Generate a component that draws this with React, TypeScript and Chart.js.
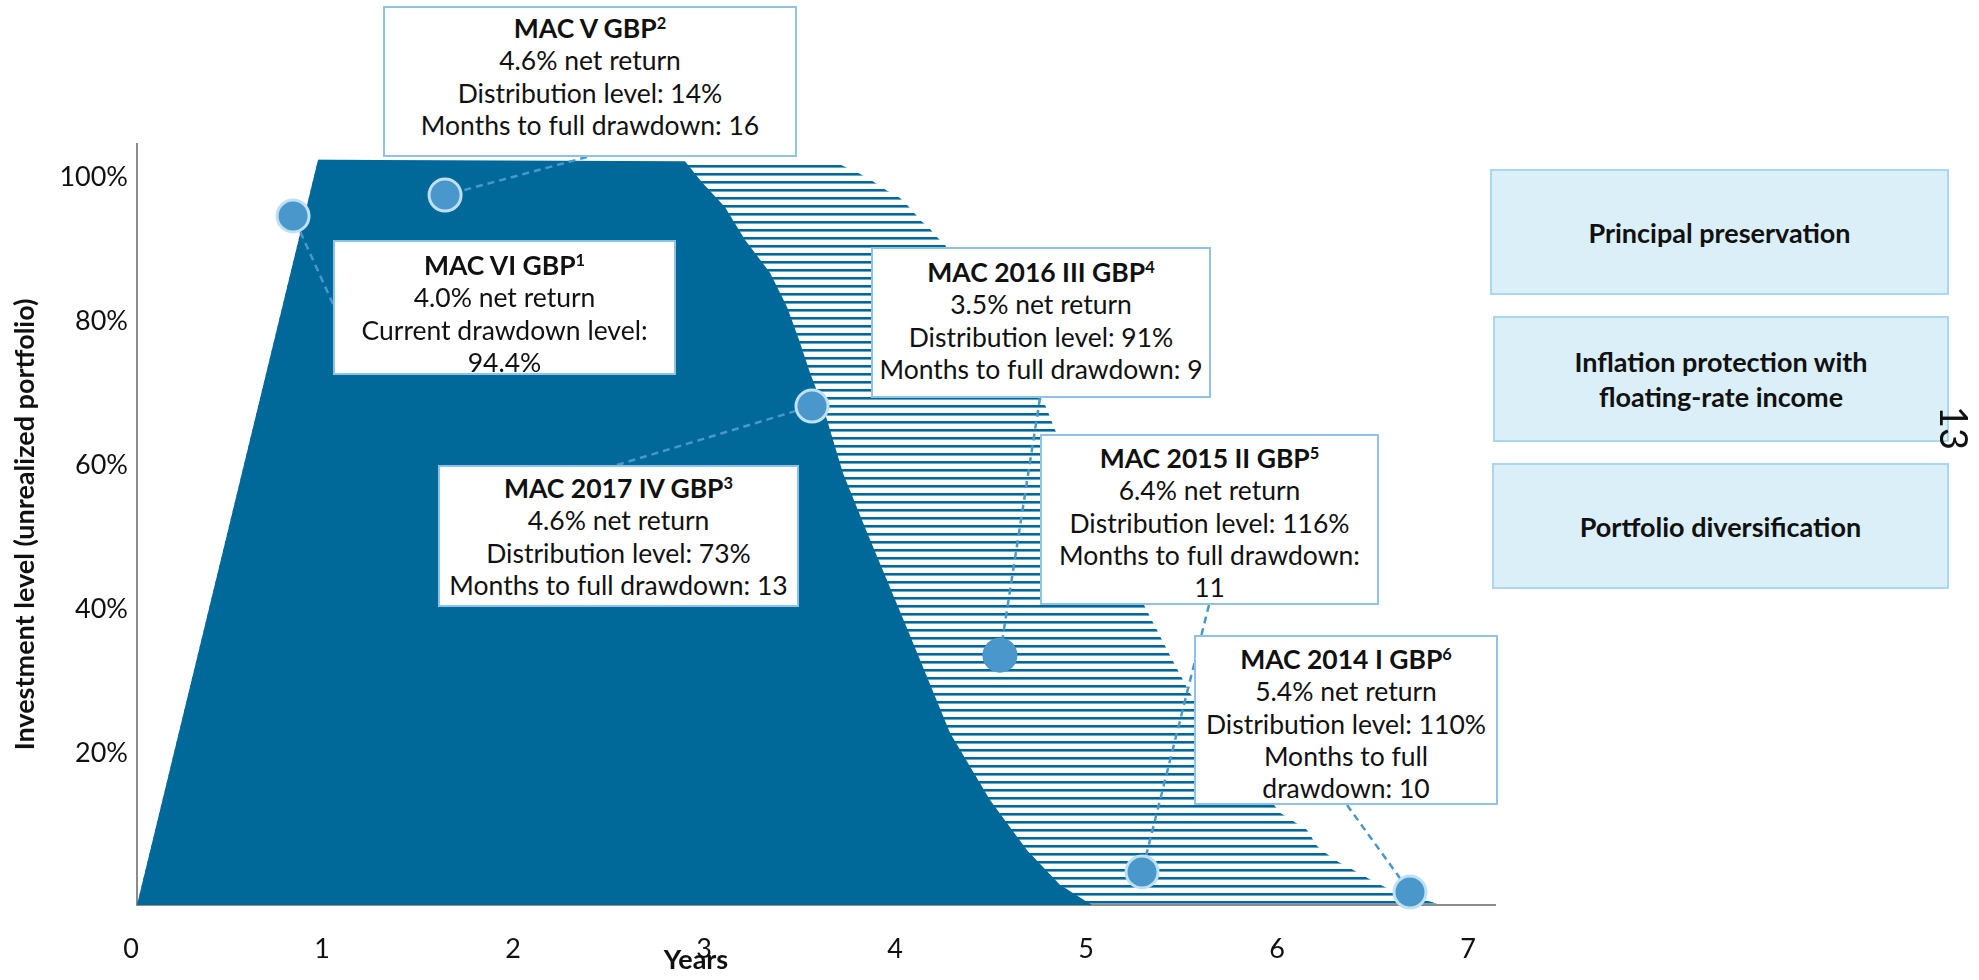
import React, { useEffect, useRef } from 'react';
import { Chart, registerables } from 'chart.js';

Chart.register(...registerables);

// ---------- data ----------
const X_TICKS = [0, 1, 2, 3, 4, 5, 6, 7];
const Y_TICKS = [20, 40, 60, 80, 100];

// solid area: invested (unrealized) portfolio
const DRAWN_X = [0, 0.948, 2.869, 2.958, 3.079, 3.183, 3.314, 3.403, 3.466, 3.524, 3.592, 3.696, 3.817, 4.037, 4.257, 4.466, 4.66, 4.832, 5.0];
const DRAWN_Y = [0, 103.5, 103.3, 100.4, 96.9, 92.4, 87.8, 83.1, 78.5, 73.9, 69.2, 60.0, 52.1, 38.1, 23.9, 14.6, 7.6, 2.8, 0];

// hatched area: outer envelope
const RANGE_X = [0, 0.948, 2.869, 3.686, 3.775, 3.848, 3.921, 3.995, 4.037, 4.073, 4.11, 4.152, 4.188, 4.23, 4.759, 4.806, 5.293, 5.408, 5.513, 5.984, 6.126, 6.178, 6.23, 6.288, 6.366, 6.44, 6.524, 6.613, 6.78, 6.822];
const RANGE_Y = [0, 103.5, 103.3, 102.8, 101.7, 100.6, 99.3, 98.2, 97.1, 96.0, 94.9, 93.9, 92.8, 91.7, 69.2, 66.0, 40.6, 34.7, 29.4, 12.8, 10.4, 8.2, 7.1, 6.0, 4.9, 3.8, 2.6, 1.5, 0.4, 0];

// fund callouts
const FUND_NAMES = ['MAC VI GBP', 'MAC V GBP', 'MAC 2017 IV GBP', 'MAC 2016 III GBP', 'MAC 2015 II GBP', 'MAC 2014 I GBP'];
const FUND_NOTES = ['1', '2', '3', '4', '5', '6'];
const FUND_X = [0.817, 1.613, 3.534, 4.518, 5.262, 6.665];
const FUND_Y = [95.7, 98.6, 69.3, 34.7, 4.6, 1.8];
const FUND_RING = [true, true, true, false, true, true];
const FUND_LINES = [
  ['4.0% net return', 'Current drawdown level:', '94.4%'],
  ['4.6% net return', 'Distribution level: 14%', 'Months to full drawdown: 16'],
  ['4.6% net return', 'Distribution level: 73%', 'Months to full drawdown: 13'],
  ['3.5% net return', 'Distribution level: 91%', 'Months to full drawdown: 9'],
  ['6.4% net return', 'Distribution level: 116%', 'Months to full drawdown:', '11'],
  ['5.4% net return', 'Distribution level: 110%', 'Months to full', 'drawdown: 10'],
];

const BENEFITS = [['Principal preservation'], ['Inflation protection with', 'floating-rate income'], ['Portfolio diversification']];

const Y_TITLE = 'Investment level (unrealized portfolio)';
const X_TITLE = 'Years';
const PAGE_NO = '13';

// ---------- layout / style ----------
const W = 1979;
const H = 980;
const DARK = '#00699a';
const DOT = '#4a97cc';
const RING = '#bfe0f2';
const FONT = 'Lato, "Open Sans", sans-serif';

const BOXES = [
  { left: 333, top: 240, w: 343, h: 135, pt: 7, ax: 333, ay: 304 },
  { left: 383, top: 6, w: 414, h: 151, pt: 4, ax: 587, ay: 157 },
  { left: 438, top: 465, w: 361, h: 142, pt: 5, ax: 617, ay: 465 },
  { left: 871, top: 247, w: 340, h: 151, pt: 7, ax: 1040, ay: 398 },
  { left: 1040, top: 434, w: 339, h: 171, pt: 6, ax: 1209, ay: 605 },
  { left: 1194, top: 635, w: 304, h: 170, pt: 6, ax: 1347, ay: 805 },
];
const SIDE_BOXES = [
  { left: 1490, top: 169, w: 459, h: 126 },
  { left: 1493, top: 316, w: 456, h: 126 },
  { left: 1492, top: 463, w: 457, h: 126 },
];

const leaderPlugin = {
  id: 'leaders',
  beforeDatasetDraw(chart: any, args: any) {
    if (args.index !== 0) return;
    const { ctx } = chart;
    const xs = chart.scales.x;
    const ys = chart.scales.y;
    ctx.save();
    ctx.strokeStyle = DOT;
    ctx.lineWidth = 2.5;
    ctx.setLineDash([7, 5]);
    FUND_X.forEach((fx, i) => {
      const px = xs.getPixelForValue(fx);
      const py = ys.getPixelForValue(FUND_Y[i]);
      ctx.beginPath();
      ctx.moveTo(BOXES[i].ax, BOXES[i].ay);
      ctx.lineTo(px, py);
      ctx.stroke();
    });
    ctx.restore();
  },
};

export default function App() {
  const ref = useRef<HTMLCanvasElement | null>(null);

  useEffect(() => {
    const canvas = ref.current;
    if (!canvas) return;
    const ctx = canvas.getContext('2d')!;
    const tile = document.createElement('canvas');
    tile.width = 8;
    tile.height = 8;
    const tctx = tile.getContext('2d')!;
    tctx.fillStyle = DARK;
    tctx.fillRect(0, 5, 8, 2.6);
    const pattern = ctx.createPattern(tile, 'repeat');

    Chart.defaults.font.family = FONT;

    const chart = new Chart(canvas, {
      type: 'line',
      data: {
        datasets: [
          {
            label: 'Funds',
            data: FUND_X.map((x, i) => ({ x, y: FUND_Y[i] })),
            showLine: false,
            pointRadius: 16,
            pointHoverRadius: 16,
            pointBorderWidth: 3,
            pointBackgroundColor: DOT,
            pointBorderColor: FUND_RING.map((r) => (r ? RING : DOT)),
            clip: false,
          } as any,
          {
            label: 'Invested',
            data: DRAWN_X.map((x, i) => ({ x, y: DRAWN_Y[i] })),
            fill: 'origin',
            backgroundColor: DARK,
            borderWidth: 0,
            pointRadius: 0,
            tension: 0,
          },
          {
            label: 'Range',
            data: RANGE_X.map((x, i) => ({ x, y: RANGE_Y[i] })),
            fill: 'origin',
            backgroundColor: pattern as any,
            borderWidth: 0,
            pointRadius: 0,
            tension: 0,
          },
        ],
      },
      options: {
        responsive: false,
        animation: false,
        events: [],
        layout: { padding: { left: 0, top: 144, right: W - 1495, bottom: 0 } },
        plugins: { legend: { display: false }, tooltip: { enabled: false } },
        scales: {
          x: {
            type: 'linear',
            min: 0,
            max: 7.11,
            grid: { display: false, drawTicks: false },
            border: { display: true, color: '#8c8c8c', width: 2 },
            ticks: {
              font: { size: 27, family: FONT },
              color: '#111',
              padding: 28,
              labelOffset: -6,
              callback: (v: any) => String(v),
            },
            afterBuildTicks: (s: any) => {
              s.ticks = X_TICKS.map((v) => ({ value: v }));
            },
            afterFit: (s: any) => {
              s.height = H - 905;
            },
          },
          y: {
            type: 'linear',
            min: 0,
            max: 105.7,
            grid: { display: false, drawTicks: false },
            border: { display: true, color: '#8c8c8c', width: 2 },
            ticks: {
              font: { size: 27, family: FONT },
              color: '#111',
              padding: 9,
              labelOffset: -8,
              callback: (v: any) => v + '%',
            },
            title: {
              display: true,
              text: Y_TITLE,
              color: '#111',
              font: { size: 27, weight: 'bold', family: FONT },
              padding: { top: 9, bottom: 0 },
            },
            afterBuildTicks: (s: any) => {
              s.ticks = Y_TICKS.map((v) => ({ value: v }));
            },
            afterFit: (s: any) => {
              s.width = 137;
            },
          },
        },
      },
      plugins: [leaderPlugin],
    });
    return () => chart.destroy();
  }, []);

  return (
    <div style={{ position: 'absolute', left: 0, top: 0, width: W, height: H, background: '#fff', fontFamily: FONT, color: '#111', overflow: 'hidden' }}>
      <canvas ref={ref} width={W} height={H} style={{ position: 'absolute', left: 0, top: 0, width: W, height: H }} />
      {BOXES.map((b, i) => (
        <div
          key={i}
          style={{
            position: 'absolute',
            left: b.left,
            top: b.top,
            width: b.w,
            height: b.h,
            boxSizing: 'border-box',
            border: '2px solid #90c2e6',
            background: '#fff',
            textAlign: 'center',
            fontSize: 26.5,
            lineHeight: '32.3px',
            paddingTop: b.pt,
            whiteSpace: 'nowrap',
          }}
        >
          <div style={{ fontWeight: 700 }}>
            {FUND_NAMES[i]}
            <sup style={{ fontSize: '0.62em', lineHeight: 0, verticalAlign: '0.55em' }}>{FUND_NOTES[i]}</sup>
          </div>
          {FUND_LINES[i].map((l, j) => (
            <div key={j}>{l}</div>
          ))}
        </div>
      ))}
      {SIDE_BOXES.map((b, i) => (
        <div
          key={'s' + i}
          style={{
            position: 'absolute',
            left: b.left,
            top: b.top,
            width: b.w,
            height: b.h,
            boxSizing: 'border-box',
            border: '2px solid #aad6ee',
            background: '#dbeff9',
            display: 'flex',
            flexDirection: 'column',
            justifyContent: 'center',
            alignItems: 'center',
            fontWeight: 700,
            fontSize: 27,
            lineHeight: '35px',
            textAlign: 'center',
          }}
        >
          {BENEFITS[i].map((l, j) => (
            <div key={j}>{l}</div>
          ))}
        </div>
      ))}
      <div style={{ position: 'absolute', left: 696, top: 959, transform: 'translate(-50%, -50%)', fontWeight: 700, fontSize: 27, lineHeight: '30px' }}>
        {X_TITLE}
      </div>
      <div style={{ position: 'absolute', left: 1955, top: 428, transform: 'translate(-50%, -50%) rotate(90deg)', fontSize: 38, lineHeight: '40px' }}>
        {PAGE_NO}
      </div>
    </div>
  );
}
